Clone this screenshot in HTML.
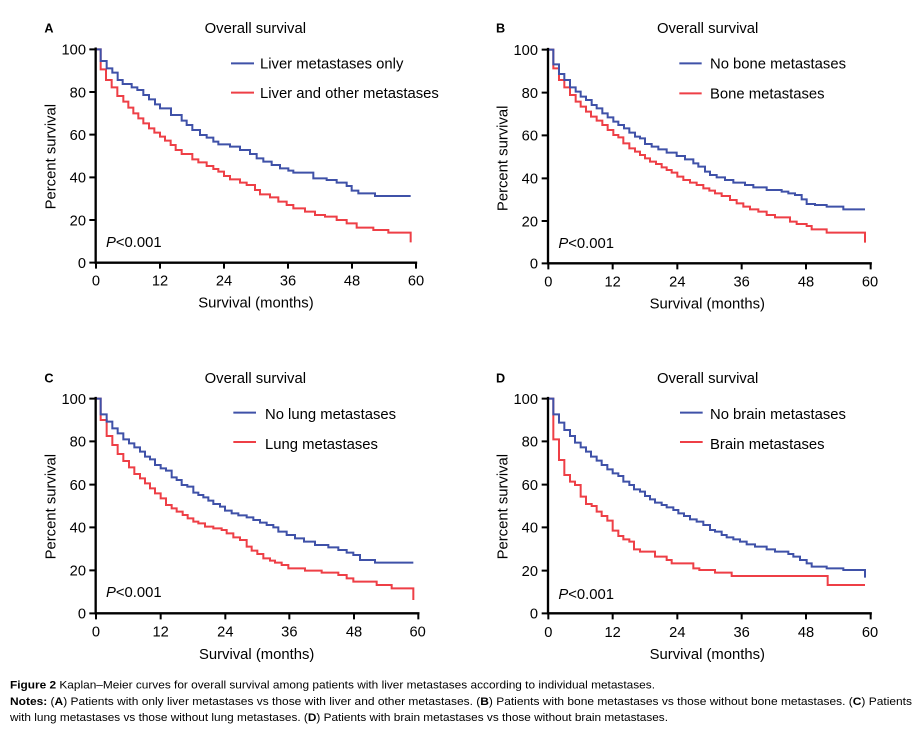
<!DOCTYPE html>
<html><head><meta charset="utf-8"><style>
html,body{margin:0;padding:0;background:#fff;}
svg{display:block;}
text{font-family:"Liberation Sans",Arial,sans-serif;fill:#000;}
</style></head><body>
<svg width="923" height="733" viewBox="0 0 923 733" xmlns="http://www.w3.org/2000/svg">
<rect width="923" height="733" fill="#fff"/>
<defs>
<style>
.ax{stroke:#000;stroke-width:7;fill:none;stroke-linecap:square}
.tk{stroke:#000;stroke-width:6;fill:none}
.bl{stroke:#3f51a8;stroke-width:6;fill:none;stroke-linejoin:miter}
.rd{stroke:#ee3f46;stroke-width:6;fill:none;stroke-linejoin:miter}
.t{font-size:44px}
.tt{font-size:44.5px}
.lg{font-size:44.5px}
.pl{font-size:38px;font-weight:bold}
</style>
</defs>

<!-- Panel A -->
<g transform="translate(0,0) scale(0.333333)">
<text class="pl" x="133" y="97">A</text>
<text class="tt" x="766" y="99" text-anchor="middle">Overall survival</text>
<path class="rd" d="M288,148 H302 V208 H318 V240 H335 V262 H352 V288 H370 V305 H385 V323 H400 V340 H415 V355 H430 V370 H447 V385 H463 V398 H480 V410 H495 V422 H512 V435 H527 V450 H545 V462 H577 V478 H595 V487 H620 V498 H640 V507 H655 V515 H672 V528 H690 V538 H720 V548 H740 V555 H765 V570 H780 V583 H810 V592 H835 V605 H860 V615 H880 V625 H915 V635 H945 V645 H975 V650 H1010 V660 H1040 V670 H1070 V683 H1120 V690 H1165 V698 H1232 V727"/>
<path class="bl" d="M288,148 H302 V183 H320 V205 H337 V218 H353 V240 H368 V252 H395 V262 H412 V270 H430 V285 H447 V298 H465 V313 H480 V325 H513 V345 H545 V362 H560 V375 H577 V390 H600 V405 H620 V413 H640 V425 H655 V433 H690 V440 H720 V450 H750 V462 H770 V475 H790 V485 H815 V495 H840 V505 H865 V512 H880 V518 H940 V535 H980 V540 H1010 V548 H1040 V558 H1055 V572 H1075 V580 H1125 V588 H1232"/>
<path class="ax" d="M287,146 V788 H1248"/>
<path class="tk" d="M268,148 H287 M268,276 H287 M268,404 H287 M268,532 H287 M268,660 H287 M268,788 H287 M288,788 V806 M480,788 V806 M672,788 V806 M864,788 V806 M1056,788 V806 M1248,788 V806"/>
<g class="t" text-anchor="end">
<text x="258" y="164">100</text><text x="258" y="292">80</text><text x="258" y="420">60</text><text x="258" y="548">40</text><text x="258" y="676">20</text><text x="258" y="804">0</text>
</g>
<g class="t" text-anchor="middle">
<text x="288" y="856">0</text><text x="480" y="856">12</text><text x="672" y="856">24</text><text x="864" y="856">36</text><text x="1056" y="856">48</text><text x="1248" y="856">60</text>
</g>
<g class="tt" text-anchor="middle">
<text x="768" y="923">Survival (months)</text>
<text transform="translate(167,470) rotate(-90)" x="0" y="0">Percent survival</text>
</g>
<path class="bl" d="M693,190 H762"/><text class="lg" x="780" y="205">Liver metastases only</text>
<path class="rd" d="M693,278 H762"/><text class="lg" x="780" y="294">Liver and other metastases</text>
<text class="tt" x="318" y="741"><tspan font-style="italic">P</tspan>&lt;0.001</text>
</g>

<!-- Panel B -->
<g transform="translate(460,0) scale(0.333333)">
<text class="pl" x="108" y="97">B</text>
<text class="tt" x="743" y="99" text-anchor="middle">Overall survival</text>
<path class="rd" d="M265,149 H280 V205 H297 V240 H313 V262 H330 V285 H347 V305 H362 V320 H378 V335 H393 V350 H410 V362 H427 V375 H443 V390 H460 V405 H475 V412 H490 V430 H508 V445 H525 V455 H540 V465 H555 V475 H570 V485 H588 V492 H605 V502 H620 V510 H635 V518 H652 V530 H670 V540 H690 V548 H710 V555 H730 V565 H748 V572 H765 V580 H785 V588 H810 V600 H830 V610 H850 V620 H870 V628 H895 V635 H920 V645 H945 V652 H990 V665 H1010 V672 H1040 V678 H1055 V688 H1100 V698 H1215 V728"/>
<path class="bl" d="M265,149 H280 V193 H297 V222 H313 V240 H330 V262 H347 V275 H362 V290 H378 V300 H395 V315 H410 V325 H427 V340 H443 V352 H460 V365 H475 V375 H492 V385 H508 V398 H525 V410 H540 V415 H555 V432 H575 V440 H595 V448 H620 V458 H650 V468 H675 V478 H700 V490 H715 V500 H735 V515 H750 V525 H770 V532 H795 V540 H820 V548 H855 V555 H880 V562 H920 V570 H965 V575 H985 V580 H1005 V585 H1025 V598 H1040 V612 H1065 V615 H1100 V620 H1150 V628 H1215"/>
<path class="ax" d="M264,147 V790 H1232"/>
<path class="tk" d="M245,149 H264 M245,278 H264 M245,406 H264 M245,535 H264 M245,663 H264 M245,790 H264 M265,790 V808 M458,790 V808 M652,790 V808 M845,790 V808 M1038,790 V808 M1232,790 V808"/>
<g class="t" text-anchor="end">
<text x="234" y="165">100</text><text x="234" y="294">80</text><text x="234" y="422">60</text><text x="234" y="551">40</text><text x="234" y="679">20</text><text x="234" y="806">0</text>
</g>
<g class="t" text-anchor="middle">
<text x="265" y="859">0</text><text x="458" y="859">12</text><text x="652" y="859">24</text><text x="845" y="859">36</text><text x="1038" y="859">48</text><text x="1230" y="859">60</text>
</g>
<g class="tt" text-anchor="middle">
<text x="742" y="925">Survival (months)</text>
<text transform="translate(143,475) rotate(-90)" x="0" y="0">Percent survival</text>
</g>
<path class="bl" d="M658,190 H725"/><text class="lg" x="750" y="205">No bone metastases</text>
<path class="rd" d="M658,280 H725"/><text class="lg" x="750" y="295">Bone metastases</text>
<text class="tt" x="295" y="744"><tspan font-style="italic">P</tspan>&lt;0.001</text>
</g>

<!-- Panel C -->
<g transform="translate(0,350) scale(0.333333)">
<text class="pl" x="133" y="97">C</text>
<text class="tt" x="766" y="99" text-anchor="middle">Overall survival</text>
<path class="rd" d="M288,146 H302 V210 H320 V258 H337 V285 H353 V312 H370 V333 H387 V352 H403 V372 H420 V385 H435 V400 H450 V415 H465 V430 H482 V445 H498 V465 H515 V475 H530 V485 H548 V495 H563 V505 H580 V515 H595 V520 H615 V530 H640 V535 H665 V540 H680 V550 H700 V562 H720 V570 H740 V590 H755 V602 H772 V612 H790 V625 H810 V632 H825 V638 H845 V645 H865 V655 H915 V662 H965 V668 H1015 V675 H1040 V685 H1060 V695 H1130 V705 H1175 V715 H1240 V750"/>
<path class="bl" d="M288,146 H302 V193 H320 V215 H337 V235 H353 V250 H370 V268 H387 V280 H403 V292 H420 V305 H435 V320 H450 V328 H465 V345 H482 V355 H498 V362 H515 V382 H530 V390 H545 V405 H562 V410 H580 V428 H595 V435 H610 V442 H625 V452 H640 V462 H660 V470 H675 V482 H695 V490 H715 V496 H740 V502 H760 V510 H780 V518 H800 V525 H820 V532 H835 V545 H860 V555 H885 V565 H912 V575 H945 V585 H985 V592 H1015 V600 H1040 V608 H1060 V615 H1080 V630 H1125 V638 H1240"/>
<path class="ax" d="M287,144 V790 H1255"/>
<path class="tk" d="M268,146 H287 M268,274 H287 M268,404 H287 M268,532 H287 M268,661 H287 M268,790 H287 M288,790 V808 M482,790 V808 M676,790 V808 M868,790 V808 M1062,790 V808 M1255,790 V808"/>
<g class="t" text-anchor="end">
<text x="258" y="162">100</text><text x="258" y="290">80</text><text x="258" y="420">60</text><text x="258" y="548">40</text><text x="258" y="677">20</text><text x="258" y="806">0</text>
</g>
<g class="t" text-anchor="middle">
<text x="288" y="859">0</text><text x="482" y="859">12</text><text x="676" y="859">24</text><text x="868" y="859">36</text><text x="1062" y="859">48</text><text x="1253" y="859">60</text>
</g>
<g class="tt" text-anchor="middle">
<text x="770" y="927">Survival (months)</text>
<text transform="translate(167,470) rotate(-90)" x="0" y="0">Percent survival</text>
</g>
<path class="bl" d="M700,188 H768"/><text class="lg" x="795" y="207">No lung metastases</text>
<path class="rd" d="M700,276 H768"/><text class="lg" x="795" y="297">Lung metastases</text>
<text class="tt" x="318" y="741"><tspan font-style="italic">P</tspan>&lt;0.001</text>
</g>

<!-- Panel D -->
<g transform="translate(460,350) scale(0.333333)">
<text class="pl" x="108" y="97">D</text>
<text class="tt" x="743" y="99" text-anchor="middle">Overall survival</text>
<path class="rd" d="M265,146 H280 V268 H297 V330 H313 V375 H330 V395 H345 V405 H362 V440 H378 V462 H395 V468 H410 V485 H425 V498 H442 V512 H458 V542 H475 V558 H490 V568 H508 V575 H522 V598 H540 V605 H585 V620 H620 V630 H635 V640 H700 V655 H718 V660 H765 V668 H815 V678 H1103 V705 H1215"/>
<path class="bl" d="M265,146 H280 V193 H297 V218 H313 V240 H330 V258 H345 V278 H362 V292 H378 V305 H393 V320 H410 V332 H425 V345 H442 V358 H458 V370 H475 V378 H490 V395 H508 V405 H522 V418 H540 V425 H555 V438 H570 V448 H585 V458 H605 V465 H620 V472 H640 V480 H655 V490 H672 V498 H690 V508 H710 V515 H730 V525 H750 V540 H765 V545 H785 V555 H800 V562 H820 V568 H840 V575 H860 V583 H885 V590 H920 V598 H945 V605 H985 V612 H1000 V620 H1020 V630 H1040 V640 H1055 V650 H1100 V655 H1150 V660 H1215 V683"/>
<path class="ax" d="M264,144 V790 H1232"/>
<path class="tk" d="M245,146 H264 M245,274 H264 M245,404 H264 M245,532 H264 M245,662 H264 M245,790 H264 M265,790 V808 M458,790 V808 M652,790 V808 M845,790 V808 M1038,790 V808 M1232,790 V808"/>
<g class="t" text-anchor="end">
<text x="234" y="162">100</text><text x="234" y="290">80</text><text x="234" y="420">60</text><text x="234" y="548">40</text><text x="234" y="678">20</text><text x="234" y="806">0</text>
</g>
<g class="t" text-anchor="middle">
<text x="265" y="861">0</text><text x="458" y="861">12</text><text x="652" y="861">24</text><text x="845" y="861">36</text><text x="1038" y="861">48</text><text x="1230" y="861">60</text>
</g>
<g class="tt" text-anchor="middle">
<text x="742" y="927">Survival (months)</text>
<text transform="translate(143,470) rotate(-90)" x="0" y="0">Percent survival</text>
</g>
<path class="bl" d="M660,188 H728"/><text class="lg" x="750" y="207">No brain metastases</text>
<path class="rd" d="M660,276 H728"/><text class="lg" x="750" y="297">Brain metastases</text>
<text class="tt" x="295" y="747"><tspan font-style="italic">P</tspan>&lt;0.001</text>
</g>

<!-- Caption -->
<g style="font-size:11px">
<text x="10" y="688.5" textLength="645" lengthAdjust="spacingAndGlyphs"><tspan font-weight="bold">Figure 2</tspan> Kaplan–Meier curves for overall survival among patients with liver metastases according to individual metastases.</text>
<text x="10" y="705" textLength="902" lengthAdjust="spacingAndGlyphs"><tspan font-weight="bold">Notes:</tspan> (<tspan font-weight="bold">A</tspan>) Patients with only liver metastases vs those with liver and other metastases. (<tspan font-weight="bold">B</tspan>) Patients with bone metastases vs those without bone metastases. (<tspan font-weight="bold">C</tspan>) Patients</text>
<text x="10" y="721" textLength="658" lengthAdjust="spacingAndGlyphs">with lung metastases vs those without lung metastases. (<tspan font-weight="bold">D</tspan>) Patients with brain metastases vs those without brain metastases.</text>
</g>
</svg>
</body></html>
